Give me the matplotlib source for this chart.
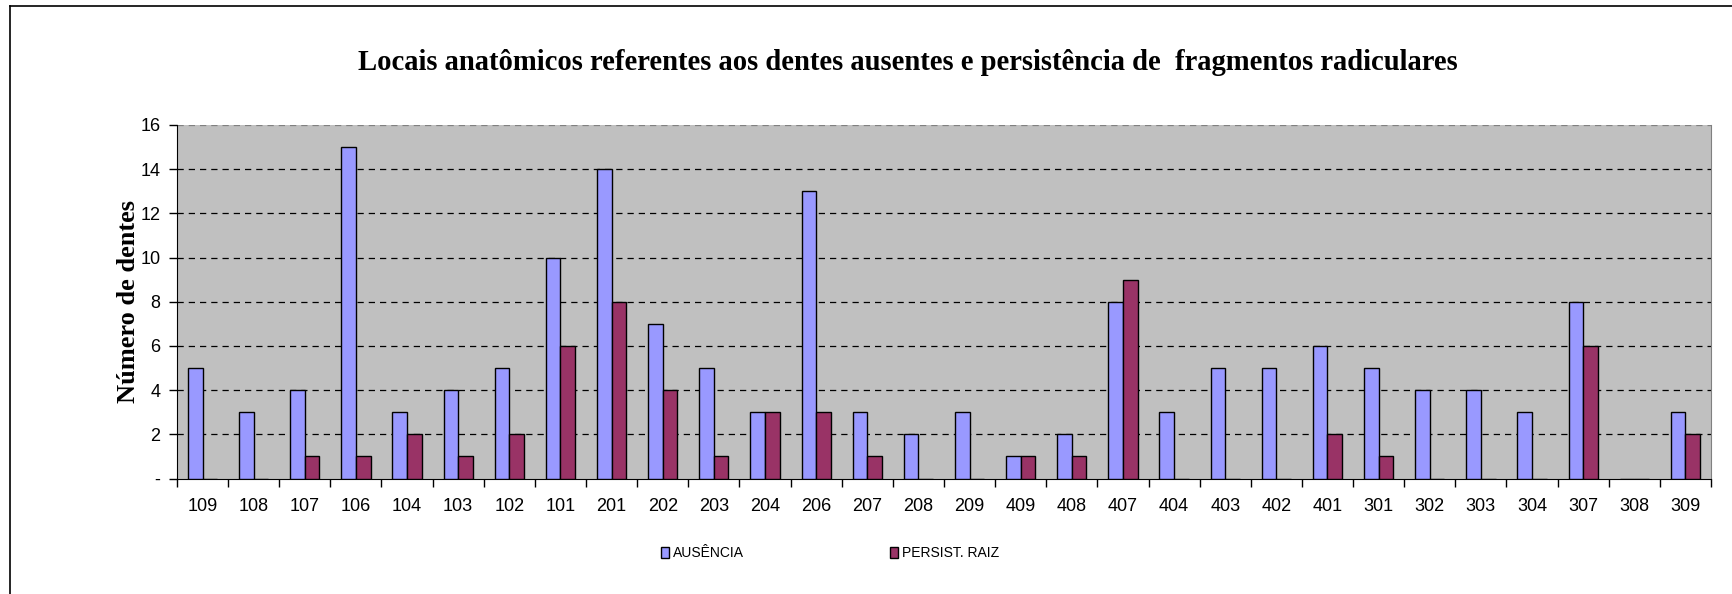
import matplotlib.pyplot as plt
from matplotlib.lines import Line2D
import numpy as np

# dados
dentes = ['109', '108', '107', '106', '104', '103', '102', '101', '201', '202',
          '203', '204', '206', '207', '208', '209', '409', '408', '407', '404',
          '403', '402', '401', '301', '302', '303', '304', '307', '308', '309']
ausencia = [5, 3, 4, 15, 3, 4, 5, 10, 14, 7, 5, 3, 13, 3, 2, 3, 1, 2, 8, 3,
            5, 5, 6, 5, 4, 4, 3, 8, 0, 3]
persist_raiz = [0, 0, 1, 1, 2, 1, 2, 6, 8, 4, 1, 3, 3, 1, 0, 0, 1, 1, 9, 0,
                0, 0, 2, 1, 0, 0, 0, 6, 0, 2]
y_ticks = [0, 2, 4, 6, 8, 10, 12, 14, 16]
y_labels = ['-', '2', '4', '6', '8', '10', '12', '14', '16']

narrow = ['Liberation Sans Narrow', 'Liberation Sans', 'DejaVu Sans']
serif = ['Liberation Serif', 'DejaVu Serif']

fig = plt.figure(figsize=(17.33, 5.94), dpi=100)
ax = fig.add_axes([0.1021, 0.1943, 0.8852, 0.5953])
ax.set_facecolor('#C0C0C0')

x = np.arange(len(dentes))
w = 0.286
ax.bar(x - w / 2, ausencia, w, color='#9999FF', edgecolor='black', linewidth=1,
       label='AUSÊNCIA', zorder=3)
ax.bar(x + w / 2, persist_raiz, w, color='#993366', edgecolor='black', linewidth=1,
       label='PERSIST. RAIZ', zorder=3)

ax.set_xlim(-0.5, len(dentes) - 0.5)
ax.set_ylim(0, 16)

# grade tracejada
for v in y_ticks[1:-1]:
    ax.axhline(v, color='black', linestyle=(0, (5, 4)), linewidth=0.9, zorder=1)
ax.axhline(16, color='#808080', linestyle=(0, (5, 4)), linewidth=0.9, zorder=1)

ax.set_yticks(y_ticks)
ax.set_yticklabels(y_labels, family=narrow, fontsize=13)
ax.set_xticks(np.arange(len(dentes) + 1) - 0.5)
ax.set_xticklabels([])
ax.set_xticks(x, minor=True)
ax.set_xticklabels(dentes, minor=True, family=narrow, fontsize=13)
ax.tick_params(axis='x', which='major', direction='out', length=6, width=1)
ax.tick_params(axis='x', which='minor', length=0, pad=14)
ax.tick_params(axis='y', direction='out', length=6, width=1, pad=6)

ax.spines['top'].set_visible(False)
ax.spines['right'].set_color('#808080')
ax.spines['left'].set_color('black')
ax.spines['bottom'].set_color('black')

ax.set_ylabel('Número de dentes', family=serif, fontweight='bold', fontsize=19,
              labelpad=0)
fig.text(0.524, 0.895, 'Locais anatômicos referentes aos dentes ausentes e persistência de  fragmentos radiculares',
         ha='center', va='center', family=serif, fontweight='bold', fontsize=20.6)

leg = fig.legend(loc='center', bbox_to_anchor=(0.479, 0.069), ncol=2, frameon=False,
                 handlelength=0.6, handleheight=0.8, handletextpad=0.3,
                 columnspacing=10.5, prop={'family': narrow, 'size': 10})

# moldura
fig.add_artist(Line2D([0.0058, 0.0058], [0, 0.99], color='black', linewidth=1.2,
                      transform=fig.transFigure))
fig.add_artist(Line2D([0.0058, 1], [0.99, 0.99], color='black', linewidth=1.2,
                      transform=fig.transFigure))

fig.savefig('out.png', dpi=100)
